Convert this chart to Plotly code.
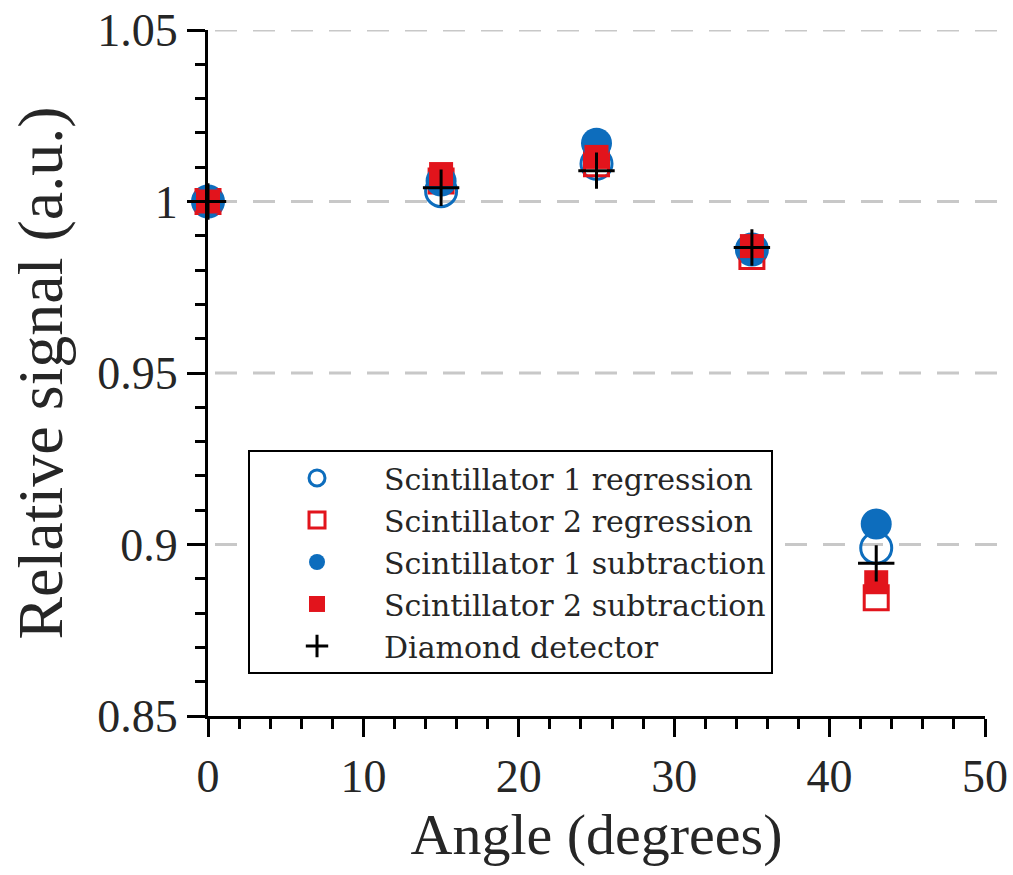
import plotly.graph_objects as go

angles = [0, 15, 25, 35, 43]

scint1_regression = [1.000, 1.003, 1.011, 0.986, 0.899]
scint2_regression = [1.000, 1.006, 1.011, 0.984, 0.8845]
scint1_subtraction = [1.000, 1.006, 1.017, 0.986, 0.906]
scint2_subtraction = [1.000, 1.008, 1.013, 0.987, 0.889]
diamond_detector = [1.000, 1.004, 1.009, 0.9866, 0.8945]

y_ticks = [0.85, 0.9, 0.95, 1.0, 1.05]
y_tick_labels = ["0.85", "0.9", "0.95", "1", "1.05"]
x_ticks = [0, 10, 20, 30, 40, 50]
grid_levels = [0.9, 0.95, 1.0, 1.05]

BLUE = "#0d6dbd"
RED = "#e2141c"
SERIF = "'Liberation Serif', 'Times New Roman', 'DejaVu Serif', serif"
LEGEND_FONT = "'DejaVu Serif', serif"
TEXT = "#262626"

series = [
    ("Scintillator 1 regression", scint1_regression,
     dict(symbol="circle-open", size=31, color=BLUE, line=dict(width=3, color=BLUE))),
    ("Scintillator 2 regression", scint2_regression,
     dict(symbol="square-open", size=24, color=RED, line=dict(width=3, color=RED))),
    ("Scintillator 1 subtraction", scint1_subtraction,
     dict(symbol="circle", size=31, color=BLUE, line=dict(width=0))),
    ("Scintillator 2 subtraction", scint2_subtraction,
     dict(symbol="square", size=24, color=RED, line=dict(width=0))),
    ("Diamond detector", diamond_detector,
     dict(symbol="cross-thin", size=26, color="black", line=dict(width=3, color="black"))),
]

fig = go.Figure()
for i, (name, vals, marker) in enumerate(series):
    fig.add_trace(go.Scatter(
        x=angles, y=vals, mode="markers", name=name, marker=marker,
        cliponaxis=False, legendgroup=f"g{i}",
    ))

# dashed horizontal reference lines running slightly past the right end of the axis
for lvl in grid_levels:
    fig.add_shape(type="line", xref="paper", yref="y", x0=0.009, x1=1.02, y0=lvl, y1=lvl,
                  line=dict(color="#c8c8c8", width=3, dash="22px,16px"), layer="below")

axis_common = dict(
    showline=True, linecolor="black", linewidth=3, mirror=False,
    ticks="outside", ticklen=18, tickwidth=3, tickcolor="black",
    showgrid=False, zeroline=False, automargin=False, ticklabeloverflow="allow",
    tickfont=dict(family=SERIF, size=46, color=TEXT),
)

fig.update_xaxes(
    range=[0, 50], tickvals=x_ticks,
    minor=dict(dtick=2, ticks="outside", ticklen=10, tickwidth=3, tickcolor="black", showgrid=False),
    title=dict(text="Angle (degrees)", font=dict(family=SERIF, size=58, color=TEXT), standoff=6),
    **axis_common,
)
fig.update_yaxes(
    range=[0.85, 1.05], tickvals=y_ticks, ticktext=y_tick_labels,
    minor=dict(dtick=0.01, ticks="outside", ticklen=10, tickwidth=3, tickcolor="black", showgrid=False),
    title=dict(text="Relative signal (a.u.)", font=dict(family=SERIF, size=64, color=TEXT), standoff=14),
    **axis_common,
)

fig.update_layout(
    width=1013, height=875,
    margin=dict(l=208, r=28, t=30, b=159),
    paper_bgcolor="white", plot_bgcolor="white",
    legend=dict(
        x=0.0515, y=0.3878, xanchor="left", yanchor="top",
        bordercolor="black", borderwidth=2, bgcolor="white",
        font=dict(family=LEGEND_FONT, size=30, color=TEXT),
        tracegroupgap=0, traceorder="grouped", itemwidth=124,
    ),
    showlegend=True,
)

fig.write_html("out.html")
